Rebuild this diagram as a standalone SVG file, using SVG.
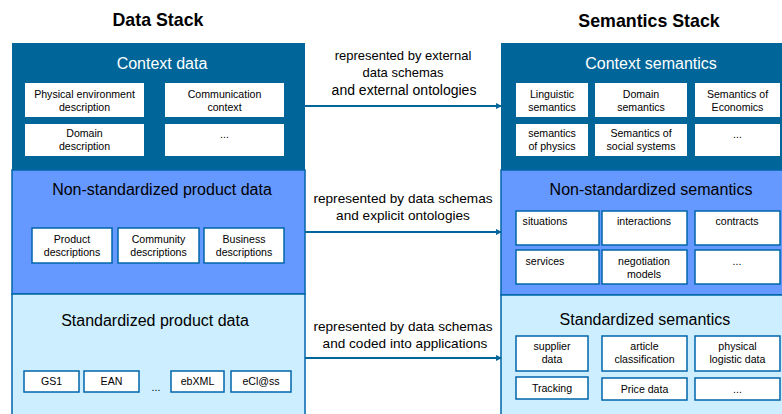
<svg xmlns="http://www.w3.org/2000/svg" width="782" height="414" viewBox="0 0 782 414">
<defs>
<marker id="arr" markerWidth="6" markerHeight="6" refX="5" refY="3" orient="auto" markerUnits="userSpaceOnUse">
<path d="M0,0 L6,3 L0,6 Z" fill="#00669a"/>
</marker>
</defs>
<style>
text{font-family:"Liberation Sans",Arial,sans-serif;text-anchor:middle}
.st{font-size:17.8px;font-weight:bold;fill:#000}
.tw{font-size:16px;fill:#fff}
.tb{font-size:16px;fill:#000}
.bx{font-size:10.6px;fill:#000}
.lb{font-size:13.6px;fill:#000}
.ctx{fill:#00669a}
.mid{fill:#6699ff;stroke:#0066aa;stroke-width:1.5}
.low{fill:#cceeff;stroke:#0066aa;stroke-width:1.5}
.wb{fill:#fff}
.bb{fill:#fff;stroke:#0066aa;stroke-width:1.5}
.con{stroke:#00669a;stroke-width:2;fill:none;marker-end:url(#arr)}
</style>
<rect width="782" height="414" fill="#fff"/>
<text class="st" x="158" y="26">Data Stack</text>
<text class="st" x="649" y="27">Semantics Stack</text>

<g id="data-stack">
<g id="context-data">
<rect class="ctx" x="12" y="43" width="293" height="127"/>
<text class="tw" x="162" y="69">Context data</text>
</g>
<g id="non-standardized-product-data">
<rect class="mid" x="12" y="170" width="293" height="124"/>
<text class="tb" x="162" y="195">Non-standardized product data</text>
</g>
<g id="standardized-product-data">
<rect class="low" x="12" y="294" width="293" height="130"/>
<text class="tb" x="155" y="326">Standardized product data</text>
</g>
</g>

<g id="physical-env"><rect class="wb" x="25" y="83" width="119" height="34"/><text class="bx" x="84.5" y="98">Physical environment</text><text class="bx" x="84.5" y="111">description</text></g>
<g id="communication-context"><rect class="wb" x="165" y="83" width="119" height="34"/><text class="bx" x="224.5" y="98">Communication</text><text class="bx" x="224.5" y="111">context</text></g>
<g id="domain-description"><rect class="wb" x="25" y="124" width="119" height="32"/><text class="bx" x="84.5" y="137">Domain</text><text class="bx" x="84.5" y="150">description</text></g>
<g id="context-more"><rect class="wb" x="165" y="124" width="119" height="32"/><text class="bx" x="224.5" y="138">...</text></g>

<g id="product-descriptions"><rect class="bb" x="32" y="228" width="80" height="35"/><text class="bx" x="72" y="243">Product</text><text class="bx" x="72" y="256">descriptions</text></g>
<g id="community-descriptions"><rect class="bb" x="118" y="228" width="81" height="35"/><text class="bx" x="158.5" y="243">Community</text><text class="bx" x="158.5" y="256">descriptions</text></g>
<g id="business-descriptions"><rect class="bb" x="204" y="228" width="80" height="35"/><text class="bx" x="244" y="243">Business</text><text class="bx" x="244" y="256">descriptions</text></g>

<g id="gs1"><rect class="bb" x="24" y="371" width="55" height="21"/><text class="bx" x="51.5" y="385">GS1</text></g>
<g id="ean"><rect class="bb" x="84" y="371" width="55" height="21"/><text class="bx" x="111.5" y="385">EAN</text></g>
<text class="bx" x="156" y="391">...</text>
<g id="ebxml"><rect class="bb" x="171" y="371" width="53" height="21"/><text class="bx" x="197.5" y="385">ebXML</text></g>
<g id="eclass"><rect class="bb" x="231" y="371" width="60" height="21"/><text class="bx" x="261" y="385">eCl@ss</text></g>

<g id="semantics-stack">
<g id="context-semantics">
<rect class="ctx" x="501" y="43" width="290" height="127"/>
<text class="tw" x="651" y="69">Context semantics</text>
</g>
<g id="non-standardized-semantics">
<rect class="mid" x="501" y="170" width="290" height="125"/>
<text class="tb" x="651" y="195">Non-standardized semantics</text>
</g>
<g id="standardized-semantics">
<rect class="low" x="501" y="295" width="290" height="130"/>
<text class="tb" x="645" y="325">Standardized semantics</text>
</g>
</g>

<g id="linguistic"><rect class="wb" x="516" y="83" width="72" height="34"/><text class="bx" x="552" y="98">Linguistic</text><text class="bx" x="552" y="111">semantics</text></g>
<g id="domain-semantics"><rect class="wb" x="595" y="83" width="92" height="34"/><text class="bx" x="641" y="98">Domain</text><text class="bx" x="641" y="111">semantics</text></g>
<g id="economics"><rect class="wb" x="695" y="83" width="85" height="34"/><text class="bx" x="737.5" y="98">Semantics of</text><text class="bx" x="737.5" y="111">Economics</text></g>
<g id="physics"><rect class="wb" x="516" y="124" width="72" height="32"/><text class="bx" x="552" y="137">semantics</text><text class="bx" x="552" y="150">of physics</text></g>
<g id="social"><rect class="wb" x="595" y="124" width="92" height="32"/><text class="bx" x="641" y="137">Semantics of</text><text class="bx" x="641" y="150">social systems</text></g>
<g id="ctxsem-more"><rect class="wb" x="695" y="124" width="85" height="32"/><text class="bx" x="737.5" y="138">...</text></g>

<g id="situations"><rect class="bb" x="516" y="211" width="83" height="34"/><text class="bx" x="545" y="225">situations</text></g>
<g id="interactions"><rect class="bb" x="602" y="211" width="85" height="34"/><text class="bx" x="644" y="225">interactions</text></g>
<g id="contracts"><rect class="bb" x="695" y="211" width="85" height="34"/><text class="bx" x="737" y="225">contracts</text></g>
<g id="services"><rect class="bb" x="516" y="250" width="83" height="34"/><text class="bx" x="545" y="265">services</text></g>
<g id="negotiation"><rect class="bb" x="602" y="250" width="85" height="34"/><text class="bx" x="644" y="265">negotiation</text><text class="bx" x="644" y="278">models</text></g>
<g id="nonstd-more"><rect class="bb" x="695" y="250" width="85" height="34"/><text class="bx" x="737" y="265">...</text></g>

<g id="supplier"><rect class="bb" x="516" y="336" width="72" height="35"/><text class="bx" x="552" y="350">supplier</text><text class="bx" x="552" y="363">data</text></g>
<g id="article"><rect class="bb" x="602" y="336" width="85" height="35"/><text class="bx" x="644.5" y="350">article</text><text class="bx" x="644.5" y="363">classification</text></g>
<g id="logistic"><rect class="bb" x="695" y="336" width="85" height="35"/><text class="bx" x="737.5" y="350">physical</text><text class="bx" x="737.5" y="363">logistic data</text></g>
<g id="tracking"><rect class="bb" x="516" y="377" width="72" height="22"/><text class="bx" x="552" y="392">Tracking</text></g>
<g id="price"><rect class="bb" x="602" y="378" width="85" height="22"/><text class="bx" x="644.5" y="393">Price data</text></g>
<g id="std-more"><rect class="bb" x="695" y="378" width="85" height="22"/><text class="bx" x="737.5" y="393">...</text></g>

<g id="connectors">
<line class="con" x1="305" y1="106" x2="501" y2="106"/>
<line class="con" x1="305" y1="232" x2="501" y2="232"/>
<line class="con" x1="305" y1="358" x2="501" y2="358"/>
<text class="lb" x="403" y="60" style="font-size:13px">represented by external</text>
<text class="lb" x="403" y="77" style="font-size:13px">data schemas</text>
<text class="lb" x="404" y="95" style="font-size:14px">and external ontologies</text>
<text class="lb" x="403" y="203">represented by data schemas</text>
<text class="lb" x="403" y="220">and explicit ontologies</text>
<text class="lb" x="403" y="331">represented by data schemas</text>
<text class="lb" x="405" y="348">and coded into applications</text>
</g>
</svg>
